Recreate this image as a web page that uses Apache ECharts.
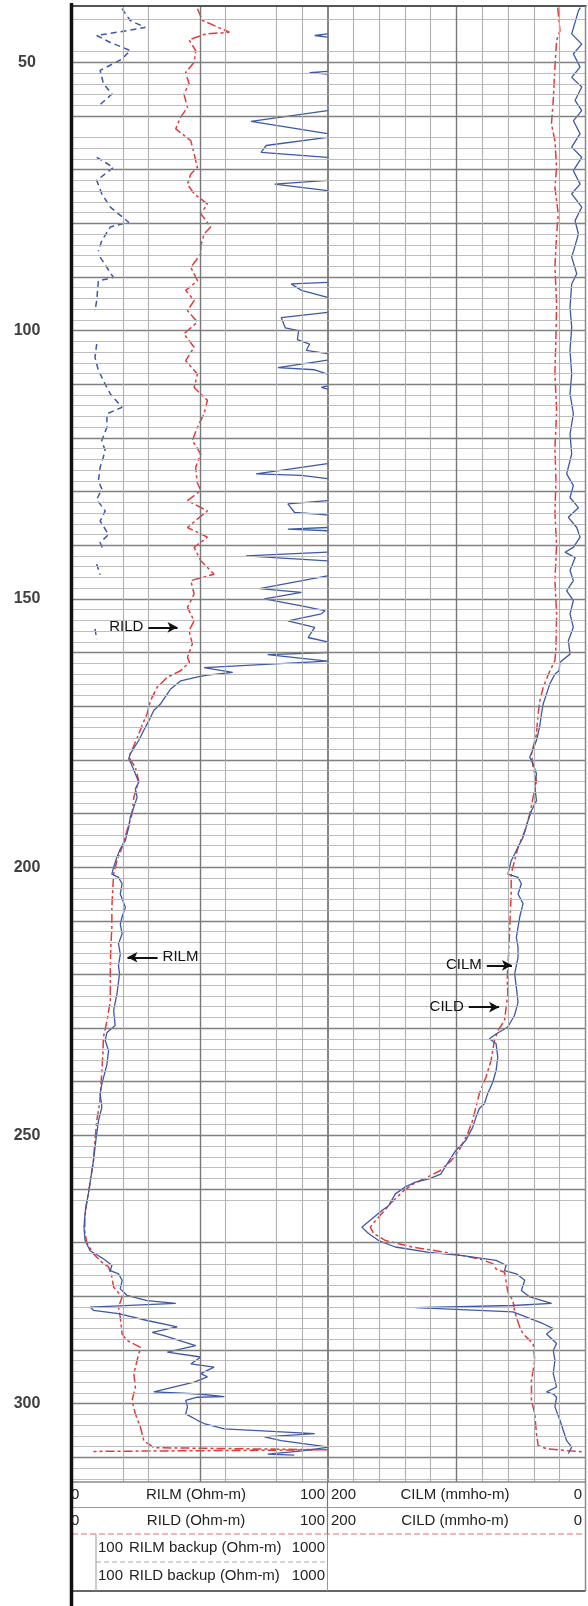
<!DOCTYPE html>
<html><head><meta charset="utf-8">
<script src="https://cdn.jsdelivr.net/npm/echarts@6/dist/echarts.min.js"></script>
<style>html,body{margin:0;padding:0;background:#fff}#c{width:588px;height:1606px}</style>
</head><body><div id="c"></div><script>
// ---------------- DATA ----------------
const depthRange = [39.5, 314.6];
const depthLabels = [50, 100, 150, 200, 250, 300];
const track1Scale = [0, 100];      // RILM / RILD (Ohm-m)
const backupScale = [100, 1000];   // RILM / RILD backup (Ohm-m)
const track2Scale = [0, 200];      // CILM / CILD (mmho-m), reversed
const track1GridValues = [20, 30, 60, 80, 90];
const track1MidValue = 50;
const track2GridValues = [20, 40, 60, 80, 120, 140, 160, 180];
const track2MidValue = 100;
const majorDepths = [50, 60, 70, 80, 90, 100, 110, 120, 130, 140, 150, 160, 170, 180, 190, 200, 210, 220, 230, 240, 250, 260, 270, 280, 290, 300, 310];
const missingMinorDepths = [44, 46, 62, 264, 266, 268];

// [depth, value]
const rild = [
[40.0,49.1],[42.2,51.1],[44.4,61.6],[44.7,52.4],[45.8,45.8],[47.8,48.4],[50.0,47.8],[51.9,44.5],[54.0,45.8],[55.9,43.8],[58.4,45.2],[60.2,42.5],[62.4,40.6],[64.6,46.5],[67.1,47.8],[69.6,49.1],[70.8,46.5],[72.7,45.2],[74.5,47.8],[76.4,53.0],[78.2,50.4],[80.7,54.3],[82.0,51.7],[84.2,50.4],
[85.7,50.4],[88.2,46.5],[90.7,49.1],[92.5,44.5],[94.4,47.8],[96.3,45.2],[98.4,49.1],[100.6,43.8],[103.1,47.8],[105.6,44.5],[108.1,49.1],[110.6,47.8],[113.0,53.0],[115.5,51.7],[118.0,49.1],[120.5,47.1],[123.0,50.4],[125.5,48.4],
[128.3,49.0],[129.8,50.4],[131.7,45.2],[133.6,53.0],[135.4,48.4],[136.7,45.2],[138.5,53.0],[140.4,47.8],[142.9,50.4],[145.4,55.6],[146.6,46.5],[149.1,47.8],[151.6,45.2],[154.1,47.8],[155.9,45.8],[158.4,47.1],[160.9,45.2],
[161.8,46.0],[163.4,42.5],[164.6,37.3],[166.5,33.3],[169.0,30.7],[171.4,29.4],[173.6,27.4],[175.2,26.1],[177.6,24.0],[179.5,22.2],[181.4,24.8],[183.9,26.1],[187.0,24.2],[190.1,23.5],[193.2,21.5],[196.3,19.6],[198.8,17.6],[201.3,16.3],[203.7,16.0],[207.5,15.6],[211.2,15.6],[214.9,15.2],[218.3,15.0],
[220.5,15.0],[224.9,15.0],[228.6,13.7],[231.7,12.3],[234.8,12.1],[237.9,11.7],[241.0,11.3],[244.1,10.8],[247.2,9.7],[250.3,9.1],[254.7,8.4],[257.8,7.4],[260.9,6.4],[263.1,5.6],
[265.5,5.0],[268.0,5.0],[270.0,5.8],[272.1,8.4],[273.9,12.3],[274.5,14.3],[276.4,15.6],[278.3,16.3],[280.1,19.6],[282.0,18.2],[283.9,18.9],[287.0,19.6],[288.2,21.5],[289.5,26.8],[291.9,25.5],[294.4,24.2],[296.9,24.8],[299.4,23.5],[301.9,24.8],[304.4,26.8],[306.9,28.1],[308.2,32.0],[308.6,100],[308.9,8.4]
];

const rilm = [
[44.7,100],[45.0,95.0],[45.3,100],[45.4,null],
[51.7,100],[51.9,93.0],[52.2,100],[52.3,null],
[59.0,100],[61.0,70.1],[63.3,100],[63.5,null],
[64.0,100],[65.5,76.0],[66.8,74.0],[67.7,100],[67.8,null],
[72.0,100],[72.7,79.3],[73.9,100],[74.0,null],
[91.0,100],[91.3,85.8],[92.5,89.8],[93.8,100],[93.9,null],
[96.6,100],[97.6,81.9],[99.5,83.5],[100.0,88.7],[101.7,88.2],[102.5,93.0],[103.7,91.7],[104.3,100],[104.4,null],
[105.5,100],[106.9,80.6],[107.3,95.0],[108.1,100],[108.2,null],
[110.3,100],[110.6,97.6],[110.9,100],[111.0,null],
[124.8,100],[126.7,72.1],[127.0,89.8],[127.6,100],[127.7,null],
[131.7,100],[132.3,84.5],[133.9,87.1],[134.2,96.3],[134.4,100],[134.5,null],
[136.7,100],[137.0,84.5],[137.3,100],[137.4,null],
[141.3,100],[142.0,68.1],[142.9,100],[143.0,null],
[145.7,100],[148.1,73.4],[148.8,89.8],[150.0,75.3],[151.3,89.8],[152.2,99.0],[152.8,97.6],[154.1,84.5],[155.3,95.0],[157.2,92.4],[158.0,100],[158.1,null],
[160.0,100],[160.4,76.6],[161.6,100],[162.8,51.7],[163.7,62.9],[164.2,53.0],[164.5,49.7],[165.3,42.5],[166.8,38.6],[167.7,37.3],[169.6,34.6],[170.8,32.0],[172.7,30.1],[174.5,28.1],[176.4,26.1],[178.9,22.8],[179.8,22.2],[181.1,23.5],[182.6,24.8],[184.2,26.1],[185.4,24.8],[187.0,25.5],[188.8,24.2],[190.7,22.8],[192.6,22.2],[195.0,20.9],[196.6,18.9],[198.1,17.6],[200.0,16.3],[201.3,15.6],[201.9,18.2],[203.1,19.6],[205.0,18.9],[207.5,20.9],[209.3,19.6],[210.6,18.9],[212.4,19.6],[214.3,18.2],[216.2,18.9],[218.3,18.2],
[219.9,18.6],[223.6,17.6],[226.7,16.3],[229.5,16.9],[230.8,13.7],[232.3,13.0],[234.2,14.3],[236.7,13.7],[240.4,11.7],[242.2,11.0],[244.7,11.7],[247.2,10.4],[250.3,9.5],[254.7,8.4],[257.8,7.4],[260.9,6.4],[263.1,5.5],
[264.6,5.1],[267.1,4.7],[269.6,5.1],[271.5,7.1],[273.0,12.3],[274.2,15.6],[275.2,15.0],[275.8,18.2],[277.0,19.6],[278.6,18.9],[279.8,21.5],[280.8,29.4],[281.3,40.6],[282.0,7.1],[282.6,8.4],[283.2,18.2],[284.5,29.4],[285.7,41.2],[286.7,31.4],[287.3,36.0],[289.2,48.4],[290.4,37.3],[291.3,50.4],[292.6,46.5],[293.2,55.6],[294.4,50.4],[295.0,53.0],[296.0,47.8],[297.8,32.0],[298.2,49.7],[298.7,59.6],[298.8,49.1],[299.4,44.5],[300.6,45.2],[301.9,44.5],[303.1,49.1],[303.7,51.7],[304.7,59.6],[305.6,95.0],[306.2,75.3],[306.9,81.9],[308.1,100.5],[308.8,90.0],[309.4,76.6],[309.6,87.0]
];

const rilmBackup = [
[40.0,276],[42.2,305],[43.5,358],[44.1,294],[45.0,187],[46.3,235],[47.8,305],[49.4,276],[51.5,199],[54.0,211],[55.9,241],[58.1,194],[58.2,null],
[67.7,187],[69.6,246],[72.0,187],[74.5,205],[77.0,235],[79.8,300],[80.7,235],[83.2,205],[85.2,193],[85.3,null],
[86.3,199],[90.1,246],[90.7,193],[94.4,187],[96.3,181],[96.4,null],
[102.5,187],[105.0,181],[107.4,193],[110.0,217],[111.8,235],[114.3,276],[115.5,223],[118.0,223],[120.5,205],[122.4,217],[125.5,199],[128.0,193],[129.5,205],[131.5,187],[133.6,217],[135.5,199],[138.0,229],[139.5,199],[141.0,211],[141.1,null],
[143.5,187],[145.5,199],[145.6,null],
[155.6,181],[157.5,187]
];

const cild = [
[39.8,21.5],[44.1,19.8],[45.9,22.4],[50.9,23.7],[57.1,25.0],[61.5,26.4],[64.6,23.7],[69.6,22.4],[73.3,23.7],[78.3,21.1],[82.0,22.4],[88.0,23.7],[95.0,22.4],[102.0,23.0],[108.0,23.7],[115.0,22.4],[122.0,23.7],[128.0,22.9],[134.0,23.7],[140.0,22.4],[146.6,23.7],[152.8,22.4],[159.0,22.9],[161.5,23.7],[163.4,27.6],[166.5,32.8],[169.0,35.4],[171.4,36.7],[173.6,37.5],[175.2,38.0],[178.9,41.9],[181.4,40.6],[183.9,38.0],[187.0,40.6],[190.1,43.2],[193.2,46.9],[196.3,52.3],[198.8,55.0],[201.3,57.6],[205.0,57.6],[208.7,58.3],[212.4,58.9],[216.2,59.6],[218.3,60.2],[221.1,60.7],[223.6,60.2],[226.1,61.5],[228.6,62.8],[230.4,67.7],[232.3,70.6],[236.0,73.2],[239.1,77.1],[242.2,82.3],[244.7,84.9],[247.2,87.5],[249.7,91.4],[252.2,96.6],[254.7,104.0],[256.5,112.2],[257.8,122.7],[259.0,133.1],[260.3,140.9],[262.1,148.7],[262.7,151.2],[265.9,162.9],[267.1,166.8],[268.3,164.2],[269.6,155.0],[270.8,134.4],[271.8,108.3],[273.0,82.3],[273.9,71.9],[274.9,69.3],[275.5,62.8],[277.3,61.5],[279.2,60.2],[280.8,56.3],[282.6,55.0],[283.9,53.6],[285.7,51.0],[287.0,48.4],[288.8,40.6],[291.9,39.3],[295.7,41.9],[299.4,41.9],[301.9,39.3],[305.6,38.0],[307.8,36.7],[308.4,30.2],[308.7,17.2],[309.0,1.6]
];

const cilm = [
[39.8,4.0],[40.4,5.5],[44.7,10.7],[46.6,2.9],[48.4,9.4],[50.9,4.2],[52.8,10.7],[54.6,2.9],[57.1,8.1],[59.0,2.9],[60.9,9.4],[63.3,4.2],[65.8,10.7],[67.7,2.9],[70.2,9.4],[72.7,4.2],[74.5,10.7],[77.0,2.9],[79.5,8.1],[82.0,5.5],[84.2,8.1],
[86.3,10.7],[89.4,6.8],[91.3,10.7],[95.7,12.0],[99.4,10.7],[103.7,12.0],[108.1,10.7],[111.8,12.0],[115.5,9.4],[119.3,12.0],[123.0,10.7],[126.7,14.6],[128.9,9.4],
[131.1,12.0],[133.0,5.5],[134.8,13.3],[136.7,6.8],[138.5,4.2],[140.4,9.4],[141.3,15.9],[142.3,8.0],[144.7,12.0],[146.6,9.4],[148.5,14.6],[150.3,9.4],[152.8,12.0],[155.3,9.4],[157.8,13.3],[160.3,12.0],[161.8,19.8],[163.4,20.5],[164.0,23.7],[165.8,27.6],[167.7,30.2],[169.6,32.8],[171.4,34.1],[173.6,35.4],
[176.4,38.0],[179.5,43.2],[180.8,40.6],[182.6,38.0],[185.1,39.3],[187.6,38.0],[189.5,41.9],[191.3,44.5],[194.4,48.4],[196.9,53.6],[198.8,57.6],[201.3,60.2],[201.9,52.3],[203.1,49.7],[205.0,52.3],[206.8,48.4],[209.3,51.0],[211.2,52.3],[213.1,53.6],[214.9,52.3],[216.8,52.3],[218.3,53.6],
[219.9,54.9],[222.4,53.6],[225.2,52.3],[227.6,55.0],[229.8,60.2],[231.1,69.3],[232.0,74.5],[232.9,69.3],[235.4,68.0],[237.9,69.3],[240.1,71.9],[242.2,75.8],[244.1,78.4],[245.0,82.3],[246.6,84.9],[248.5,87.5],[250.9,92.7],[252.8,100.5],[254.7,105.7],[257.2,112.2],[258.1,121.4],[258.7,131.8],[259.6,139.6],[260.9,147.4],[263.1,152.6],
[264.0,157.8],[267.1,173.4],[268.3,168.2],[269.6,160.4],[270.8,147.4],[271.8,121.4],[272.4,95.3],[273.3,69.3],[274.2,61.5],[275.2,62.8],[275.8,53.6],[277.0,47.1],[278.9,49.7],[280.1,43.2],[281.3,26.3],[281.7,56.3],[282.1,131.8],[282.9,56.3],[285.1,32.8],[286.0,25.0],[287.0,30.2],[288.8,22.4],[290.1,25.0],[291.9,23.7],[294.4,25.0],[296.9,22.4],[297.8,30.2],[298.2,25.0],[298.8,22.4],[300.6,23.7],[303.1,19.8],[305.0,17.2],[306.9,14.6],[308.1,10.7],[309.3,13.3]
];

// annotations: [label, depth, tail value, head value]
const track1Notes = [['RILD', 155.3, 29.9, 41.3], ['RILM', 216.8, 33.5, 21.7]];
const track2Notes = [['CILM', 218.3, 76.5, 57.0], ['CILD', 226.1, 90.5, 67.0]];

// ---------------- RENDER ----------------
const FONT = '"Liberation Sans", Arial, sans-serif';
const BLUE = '#3c58a8', RED = '#e43a3c';
const toXY = arr => arr.map(p => [p[1], p[0]]);

const minorDepths = [];
for (let d = 42; d <= 314; d += 2) {
  if (d % 10 !== 0 && missingMinorDepths.indexOf(d) < 0) minorDepths.push(d);
}
function hLines() {
  const out = [];
  minorDepths.forEach(d => out.push({yAxis: d, lineStyle: {color: '#bdbdbd', width: 1, type: 'solid'}}));
  majorDepths.forEach(d => out.push({yAxis: d, lineStyle: {color: '#808080', width: 1.3, type: 'solid'}}));
  return out;
}
function vLines(vals, mid, edge) {
  const out = vals.map(v => ({xAxis: v, lineStyle: {color: '#b0b0b0', width: 1.1, type: 'solid'}}));
  out.push({xAxis: mid, lineStyle: {color: '#777', width: 1.4, type: 'solid'}});
  if (edge !== undefined) out.push({xAxis: edge, lineStyle: {color: '#666', width: 1.6, type: 'solid'}});
  return out;
}
function gridSeries(xi, yi, lines) {
  return {type: 'line', xAxisIndex: xi, yAxisIndex: yi, data: [], z: 1, silent: true,
    markLine: {silent: true, symbol: ['none', 'none'], label: {show: false}, animation: false,
      emphasis: {disabled: true}, data: lines}};
}
function notes(list) {
  return {silent: true, animation: false, symbol: ['none', 'arrow'], symbolSize: [8, 10],
    lineStyle: {color: '#111', width: 2, type: 'solid'},
    label: {show: true, position: 'start', distance: 5, fontFamily: FONT, fontSize: 15, color: '#111'},
    emphasis: {disabled: true},
    data: list.map(n => [
      {coord: [n[2], n[1]], label: {formatter: n[0]}},
      {coord: [n[3], n[1]]}
    ])};
}
function curve(name, data, xi, yi, color, dash, width, extra) {
  return Object.assign({name, type: 'line', xAxisIndex: xi, yAxisIndex: yi, data: toXY(data),
    showSymbol: false, symbol: 'none', clip: true, z: 3, connectNulls: false, silent: true,
    lineStyle: {color, width, type: dash}}, extra || {});
}

const yBase = {type: 'value', min: depthRange[0], max: depthRange[1], inverse: true,
  axisLine: {show: false}, axisTick: {show: false}, splitLine: {show: false}};
const xBase = {type: 'value', axisLine: {show: false}, axisTick: {show: false}, axisLabel: {show: false}, splitLine: {show: false}};

const L = 72, R = 585.5, MID = 327.5, TOP = 6, BOT = 1482;
const legendRows = [1495, 1520.5, 1548, 1575.5];
function txt(x, y, s, align) {
  return {type: 'text', x, y, z: 50, silent: true,
    style: {text: s, font: '15px ' + FONT, fill: '#222', align: align, verticalAlign: 'middle'}};
}
function ln(x1, y1, x2, y2, stroke, w, dash) {
  return {type: 'line', z: 60, silent: true, shape: {x1, y1, x2, y2},
    style: {stroke, lineWidth: w, lineDash: dash || null}};
}

const graphic = [
  ln(L, TOP, R + 1, TOP, '#555', 2),
  ln(R, TOP, R, 1591, '#8a8a8a', 1.5),
  ln(L, BOT, R, BOT, '#888', 1.5),
  ln(L, 1507.5, R, 1507.5, '#9a9a9a', 1.2),
  ln(L, 1534, R, 1534, '#e86a6a', 1.2, [6, 3]),
  ln(96, 1562, MID, 1562, '#aaa', 1, [5, 3]),
  ln(L, 1591, R, 1591, '#666', 2),
  ln(MID, BOT, MID, 1534, '#777', 1.2),
  ln(MID, 1534, MID, 1591, '#999', 1),
  ln(96, 1534, 96, 1591, '#999', 1),
  txt(71, legendRows[0], '0', 'left'), txt(196, legendRows[0], 'RILM (Ohm-m)', 'center'), txt(325, legendRows[0], '100', 'right'),
  txt(331, legendRows[0], '200', 'left'), txt(455, legendRows[0], 'CILM (mmho-m)', 'center'), txt(582, legendRows[0], '0', 'right'),
  txt(71, legendRows[1], '0', 'left'), txt(196, legendRows[1], 'RILD (Ohm-m)', 'center'), txt(325, legendRows[1], '100', 'right'),
  txt(331, legendRows[1], '200', 'left'), txt(455, legendRows[1], 'CILD (mmho-m)', 'center'), txt(582, legendRows[1], '0', 'right'),
  txt(98, legendRows[2], '100', 'left'), txt(129, legendRows[2], 'RILM backup (Ohm-m)', 'left'), txt(325, legendRows[2], '1000', 'right'),
  txt(98, legendRows[3], '100', 'left'), txt(129, legendRows[3], 'RILD backup (Ohm-m)', 'left'), txt(325, legendRows[3], '1000', 'right'),
  ln(71.5, 3, 71.5, 1606, '#111', 3.5)
];

const option = {
  animation: false,
  backgroundColor: '#fff',
  grid: [
    {left: L, top: TOP, width: MID - L, height: BOT - TOP, show: false},
    {left: MID, top: TOP, width: R - MID, height: BOT - TOP, show: false}
  ],
  xAxis: [
    Object.assign({gridIndex: 0, min: track1Scale[0], max: track1Scale[1]}, xBase),
    Object.assign({gridIndex: 0, min: backupScale[0], max: backupScale[1], show: false}, xBase),
    Object.assign({gridIndex: 1, min: track2Scale[0], max: track2Scale[1], inverse: true}, xBase)
  ],
  yAxis: [
    Object.assign({gridIndex: 0, axisLabel: {show: true, customValues: depthLabels, margin: 45, align: 'center',
      fontFamily: FONT, fontSize: 16, fontWeight: 'bold', color: '#404040'}}, yBase),
    Object.assign({gridIndex: 1, axisLabel: {show: false}}, yBase)
  ],
  graphic: graphic,
  series: [
    gridSeries(0, 0, hLines().concat(vLines(track1GridValues, track1MidValue, track1Scale[1]))),
    gridSeries(2, 1, hLines().concat(vLines(track2GridValues, track2MidValue))),
    curve('RILM backup', rilmBackup, 1, 0, BLUE, [6, 4], 1.5),
    curve('RILD', rild, 0, 0, RED, [9, 3, 3, 3], 1.5, {markLine: notes(track1Notes.slice(0, 1))}),
    curve('RILM', rilm, 0, 0, BLUE, 'solid', 1.3, {markLine: notes(track1Notes.slice(1))}),
    curve('CILD', cild, 2, 1, RED, [9, 3, 3, 3], 1.5, {markLine: notes(track2Notes.slice(1))}),
    curve('CILM', cilm, 2, 1, BLUE, 'solid', 1.3, {markLine: notes(track2Notes.slice(0, 1))})
  ]
};
const chart = echarts.init(document.getElementById('c'), null, {renderer: 'canvas'});
chart.setOption(option);
</script></body></html>
